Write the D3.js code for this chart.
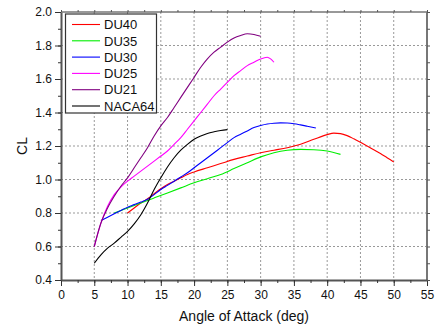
<!DOCTYPE html>
<html><head><meta charset="utf-8">
<script src="https://cdn.jsdelivr.net/npm/d3@7"></script>
<style>body{margin:0;background:#fff;} svg{display:block;font-family:"Liberation Sans",Arial,sans-serif;}</style>
</head><body>
<script>
const seriesNames = ["DU40","DU35","DU30","DU25","DU21","NACA64"];
const seriesColors = ["#ff0000","#00ee00","#0000ff","#ff00ff","#800080","#000000"];
const du40 = [[10,0.80],[11,0.83],[12,0.86],[13,0.885],[14,0.915],[15,0.945],[16,0.97],[17,0.99],[18,1.01],[19,1.03],[20,1.045],[22,1.07],[24,1.095],[26,1.12],[28,1.14],[30,1.16],[32,1.175],[34,1.19],[36,1.21],[38,1.24],[40,1.268],[41,1.277],[42,1.274],[43,1.262],[44,1.243],[45,1.222],[46,1.2],[47,1.178],[48,1.155],[49,1.13],[50,1.105]];
const du35 = [[8,0.80],[10,0.83],[12,0.86],[13,0.875],[14,0.89],[16,0.92],[18,0.95],[20,0.98],[22,1.005],[24,1.03],[26,1.065],[28,1.10],[30,1.135],[32,1.16],[34,1.175],[36,1.18],[38,1.178],[40,1.17],[42,1.15]];
const du30 = [[6,0.755],[7,0.775],[8,0.795],[9,0.815],[10,0.835],[11,0.85],[12,0.865],[13,0.882],[14,0.91],[15,0.94],[16,0.965],[17,0.99],[18,1.015],[19,1.04],[20,1.07],[21,1.10],[22,1.13],[23,1.16],[24,1.19],[25,1.22],[26,1.25],[27,1.27],[28,1.29],[29,1.31],[30,1.322],[31,1.331],[32,1.336],[33,1.338],[34,1.337],[35,1.333],[36,1.326],[37,1.318],[38.3,1.307]];
const du25 = [[5,0.60],[6,0.74],[7,0.84],[8,0.91],[9,0.955],[10,0.99],[11,1.02],[12,1.05],[13,1.08],[14,1.11],[15,1.14],[16,1.17],[17,1.21],[18,1.25],[19,1.30],[20,1.35],[21,1.40],[22,1.45],[23,1.50],[24,1.54],[25,1.58],[26,1.62],[27,1.65],[28,1.68],[29,1.70],[30,1.72],[31,1.73],[31.5,1.72],[32,1.70]];
const du21 = [[5,0.60],[6,0.74],[7,0.83],[8,0.90],[9,0.96],[10,1.01],[11,1.07],[12,1.13],[13,1.19],[14,1.26],[15,1.32],[16,1.37],[17,1.43],[18,1.49],[19,1.55],[20,1.61],[21,1.67],[22,1.72],[23,1.76],[24,1.79],[25,1.82],[26,1.845],[27,1.86],[28,1.87],[29,1.866],[30,1.855]];
const naca64 = [[5,0.50],[6,0.55],[7,0.59],[8,0.62],[9,0.655],[10,0.69],[11,0.735],[12,0.79],[13,0.86],[14,0.94],[15,1.01],[16,1.075],[17,1.13],[18,1.175],[19,1.21],[20,1.24],[21,1.26],[22,1.275],[23,1.285],[24,1.293],[25,1.298]];
const seriesData = [du40,du35,du30,du25,du21,naca64];
const xTicks = [0,5,10,15,20,25,30,35,40,45,50,55];
const yTicks = [0.4,0.6,0.8,1.0,1.2,1.4,1.6,1.8,2.0];
const xLabel = "Angle of Attack (deg)";
const yLabel = "CL";

const W=435,H=329, L=61,R=427,T=12,B=280;
const svg=d3.select("body").append("svg").attr("width",W).attr("height",H);
const x=d3.scaleLinear().domain([0,55]).range([L,R]);
const y=d3.scaleLinear().domain([0.4,2.0]).range([B,T]);
const xMinor=d3.range(0,55.01,2.5), yMinor=d3.range(0.4,2.001,0.1).map(v=>+v.toFixed(2));

// grid
const g=svg.append("g");
g.selectAll(".gx").data(xTicks.filter(v=>v>0&&v<55)).enter().append("line")
 .attr("x1",d=>x(d)).attr("x2",d=>x(d)).attr("y1",T).attr("y2",B)
 .attr("stroke","#999").attr("stroke-dasharray","2,2");
g.selectAll(".gy").data(yTicks.filter(v=>v>0.4&&v<2.0)).enter().append("line")
 .attr("y1",d=>y(d)).attr("y2",d=>y(d)).attr("x1",L).attr("x2",R)
 .attr("stroke","#999").attr("stroke-dasharray","2,2");

// curves
const line=d3.line().x(d=>x(d[0])).y(d=>y(d[1])).curve(d3.curveMonotoneX);
seriesData.forEach((s,i)=>{
  svg.append("path").datum(s).attr("d",line).attr("fill","none")
   .attr("stroke",seriesColors[i]).attr("stroke-width",1.1);
});

// frame top/right
svg.append("line").attr("x1",L).attr("x2",R).attr("y1",T).attr("y2",T).attr("stroke","#333").attr("stroke-width",1);
svg.append("line").attr("x1",R).attr("x2",R).attr("y1",T).attr("y2",B).attr("stroke","#777").attr("stroke-width",2);

// axes
function styleAxis(sel){sel.select(".domain").attr("stroke","#555").attr("stroke-width",2);
 sel.selectAll(".tick line").attr("stroke","#333");
 sel.selectAll("text").attr("fill","#111").style("font-size","12px").style("font-family","Liberation Sans, Arial, sans-serif");}
const ax=svg.append("g").attr("transform",`translate(0,${B})`)
 .call(d3.axisBottom(x).tickValues(xTicks).tickFormat(d3.format("d")).tickSize(6).tickPadding(4).tickSizeOuter(0));
styleAxis(ax);
svg.append("g").attr("transform",`translate(0,${B})`)
 .call(d3.axisBottom(x).tickValues(xMinor).tickFormat("").tickSize(3).tickSizeOuter(0))
 .call(s=>{s.select(".domain").remove();s.selectAll("line").attr("stroke","#333");});
const ay=svg.append("g").attr("transform",`translate(${L},0)`)
 .call(d3.axisLeft(y).tickValues(yTicks).tickFormat(d3.format(".1f")).tickSize(6).tickPadding(3).tickSizeOuter(0));
styleAxis(ay);
svg.append("g").attr("transform",`translate(${L},0)`)
 .call(d3.axisLeft(y).tickValues(yMinor).tickFormat("").tickSize(3).tickSizeOuter(0))
 .call(s=>{s.select(".domain").remove();s.selectAll("line").attr("stroke","#333");});
// mirror ticks
svg.append("g").attr("transform",`translate(0,${T})`)
 .call(d3.axisTop(x).tickValues(xMinor).tickFormat("").tickSize(2).tickSizeOuter(0))
 .call(s=>{s.select(".domain").remove();s.selectAll("line").attr("stroke","#555");});
svg.append("g").attr("transform",`translate(${R},0)`)
 .call(d3.axisRight(y).tickValues(yMinor).tickFormat("").tickSize(3).tickSizeOuter(0))
 .call(s=>{s.select(".domain").remove();s.selectAll("line").attr("stroke","#555");});

// labels
svg.append("text").attr("x",(L+R)/2).attr("y",321).attr("text-anchor","middle")
 .style("font-size","14px").attr("fill","#111").text(xLabel);
svg.append("text").attr("transform",`translate(27,${(T+B)/2}) rotate(-90)`).attr("text-anchor","middle")
 .style("font-size","14px").attr("fill","#111").text(yLabel);

// legend
const lg=svg.append("g");
lg.append("rect").attr("x",65.5).attr("y",14).attr("width",91).attr("height",99)
 .attr("fill","#fff").attr("stroke","#333").attr("stroke-width",1.2);
seriesNames.forEach((n,i)=>{
  const yy=24.5+i*16.3;
  lg.append("line").attr("x1",72).attr("x2",100).attr("y1",yy).attr("y2",yy)
   .attr("stroke",seriesColors[i]).attr("stroke-width",1.1);
  lg.append("text").attr("x",104).attr("y",yy+4.7).style("font-size","13px").attr("fill","#111").text(n);
});
</script>
</body></html>
